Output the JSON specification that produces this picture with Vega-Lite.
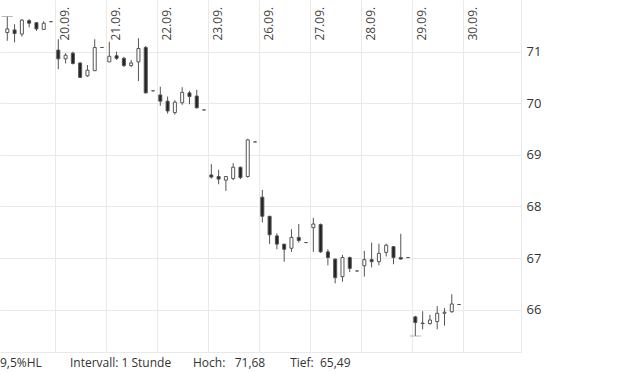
{
  "$schema": "https://vega.github.io/schema/vega-lite/v6.json",
  "width": 521,
  "height": 352,
  "padding": 0,
  "autosize": {"type": "pad"},
  "background": "#ffffff",
  "config": {"view": {"stroke": null}, "font": "Open Sans"},
  "title": {
    "text": "9,5%HL\u00a0\u00a0\u00a0\u00a0\u00a0\u00a0\u00a0\u00a0\u00a0Intervall: 1 Stunde\u00a0\u00a0\u00a0\u00a0\u00a0\u00a0\u00a0Hoch:\u00a0\u00a0\u00a071,68\u00a0\u00a0\u00a0\u00a0\u00a0\u00a0\u00a0\u00a0Tief:\u00a0\u00a065,49",
    "orient": "bottom",
    "anchor": "start",
    "offset": 15,
    "font": "Open Sans",
    "fontSize": 12,
    "fontWeight": "normal",
    "color": "#333333",
    "baseline": "alphabetic"
  },
  "datasets": {
    "candles": [
      {"i": 0, "o": 71.37, "h": 71.68, "l": 71.21, "c": 71.44},
      {"i": 1, "o": 71.42, "h": 71.53, "l": 71.18, "c": 71.35},
      {"i": 2, "o": 71.34, "h": 71.63, "l": 71.29, "c": 71.61},
      {"i": 3, "o": 71.60, "h": 71.63, "l": 71.47, "c": 71.55},
      {"i": 4, "o": 71.56, "h": 71.57, "l": 71.40, "c": 71.44},
      {"i": 5, "o": 71.43, "h": 71.59, "l": 71.42, "c": 71.55},
      {"i": 6, "o": 71.58, "h": 71.58, "l": 71.58, "c": 71.58},
      {"i": 7, "o": 71.03, "h": 71.24, "l": 70.66, "c": 70.86},
      {"i": 8, "o": 70.86, "h": 70.97, "l": 70.77, "c": 70.93},
      {"i": 9, "o": 70.97, "h": 71.00, "l": 70.75, "c": 70.77},
      {"i": 10, "o": 70.78, "h": 70.79, "l": 70.49, "c": 70.50},
      {"i": 11, "o": 70.53, "h": 70.74, "l": 70.51, "c": 70.64},
      {"i": 12, "o": 70.63, "h": 71.24, "l": 70.63, "c": 71.08},
      {"i": 13, "o": 71.08, "h": 71.08, "l": 71.08, "c": 71.08},
      {"i": 14, "o": 70.80, "h": 71.19, "l": 70.80, "c": 70.91},
      {"i": 15, "o": 70.92, "h": 71.00, "l": 70.84, "c": 70.87},
      {"i": 16, "o": 70.87, "h": 70.90, "l": 70.70, "c": 70.73},
      {"i": 17, "o": 70.73, "h": 70.84, "l": 70.70, "c": 70.78},
      {"i": 18, "o": 70.80, "h": 71.26, "l": 70.43, "c": 71.06},
      {"i": 19, "o": 71.08, "h": 71.11, "l": 70.19, "c": 70.20},
      {"i": 20, "o": 70.24, "h": 70.24, "l": 70.24, "c": 70.24},
      {"i": 21, "o": 70.16, "h": 70.32, "l": 69.95, "c": 70.04},
      {"i": 22, "o": 70.04, "h": 70.13, "l": 69.80, "c": 69.85},
      {"i": 23, "o": 69.82, "h": 70.06, "l": 69.78, "c": 70.02},
      {"i": 24, "o": 70.01, "h": 70.31, "l": 69.97, "c": 70.21},
      {"i": 25, "o": 70.20, "h": 70.24, "l": 69.98, "c": 70.13},
      {"i": 26, "o": 70.14, "h": 70.26, "l": 69.90, "c": 69.91},
      {"i": 27, "o": 69.87, "h": 69.87, "l": 69.87, "c": 69.87},
      {"i": 28, "o": 68.61, "h": 68.82, "l": 68.54, "c": 68.57},
      {"i": 29, "o": 68.58, "h": 68.71, "l": 68.43, "c": 68.53},
      {"i": 30, "o": 68.51, "h": 68.59, "l": 68.30, "c": 68.58},
      {"i": 31, "o": 68.54, "h": 68.84, "l": 68.51, "c": 68.76},
      {"i": 32, "o": 68.76, "h": 68.77, "l": 68.53, "c": 68.56},
      {"i": 33, "o": 68.58, "h": 69.31, "l": 68.56, "c": 69.29},
      {"i": 34, "o": 69.25, "h": 69.25, "l": 69.25, "c": 69.25},
      {"i": 35, "o": 68.18, "h": 68.32, "l": 67.69, "c": 67.81},
      {"i": 36, "o": 67.81, "h": 67.81, "l": 67.27, "c": 67.45},
      {"i": 37, "o": 67.43, "h": 67.48, "l": 67.17, "c": 67.27},
      {"i": 38, "o": 67.27, "h": 67.27, "l": 66.93, "c": 67.17},
      {"i": 39, "o": 67.19, "h": 67.56, "l": 67.12, "c": 67.40},
      {"i": 40, "o": 67.40, "h": 67.66, "l": 67.30, "c": 67.34},
      {"i": 41, "o": 67.30, "h": 67.30, "l": 67.30, "c": 67.30},
      {"i": 42, "o": 67.59, "h": 67.78, "l": 67.12, "c": 67.66},
      {"i": 43, "o": 67.65, "h": 67.67, "l": 67.10, "c": 67.12},
      {"i": 44, "o": 67.12, "h": 67.17, "l": 66.86, "c": 67.01},
      {"i": 45, "o": 66.98, "h": 66.99, "l": 66.51, "c": 66.62},
      {"i": 46, "o": 66.64, "h": 67.06, "l": 66.54, "c": 67.01},
      {"i": 47, "o": 67.01, "h": 67.03, "l": 66.73, "c": 66.80},
      {"i": 48, "o": 66.75, "h": 66.75, "l": 66.75, "c": 66.75},
      {"i": 49, "o": 66.85, "h": 67.14, "l": 66.64, "c": 66.97},
      {"i": 50, "o": 66.97, "h": 67.30, "l": 66.82, "c": 66.93},
      {"i": 51, "o": 66.93, "h": 67.28, "l": 66.86, "c": 67.09},
      {"i": 52, "o": 67.11, "h": 67.28, "l": 67.03, "c": 67.25},
      {"i": 53, "o": 67.22, "h": 67.23, "l": 66.88, "c": 67.01},
      {"i": 54, "o": 67.01, "h": 67.47, "l": 66.98, "c": 66.98},
      {"i": 55, "o": 67.01, "h": 67.01, "l": 67.01, "c": 67.01},
      {"i": 56, "o": 65.86, "h": 65.88, "l": 65.49, "c": 65.75},
      {"i": 57, "o": 65.74, "h": 65.97, "l": 65.62, "c": 65.73},
      {"i": 58, "o": 65.73, "h": 65.90, "l": 65.71, "c": 65.80},
      {"i": 59, "o": 65.77, "h": 66.07, "l": 65.62, "c": 65.93},
      {"i": 60, "o": 65.93, "h": 66.03, "l": 65.69, "c": 65.95},
      {"i": 61, "o": 65.96, "h": 66.30, "l": 65.94, "c": 66.11},
      {"i": 62, "o": 66.10, "h": 66.10, "l": 66.10, "c": 66.10}
    ],
    "extremes": [
      {"i": 0, "v": 71.68, "kind": "Hoch"},
      {"i": 56, "v": 65.49, "kind": "Tief"}
    ]
  },
  "resolve": {"axis": {"x": "independent"}},
  "layer": [
    {
      "data": {"name": "candles"},
      "mark": {"type": "rule", "color": "#555555", "strokeWidth": 1},
      "encoding": {
        "x": {
          "field": "i",
          "type": "quantitative",
          "scale": {"domain": [-1, 70.5], "nice": false, "zero": false, "padding": 0},
          "axis": {
            "orient": "top",
            "values": [6.6, 13.6, 20.6, 27.6, 34.6, 41.6, 48.6, 55.6, 62.6],
            "labelExpr": "['20.09.','21.09.','22.09.','23.09.','26.09.','27.09.','28.09.','29.09.','30.09.'][round((datum.value+0.4)/7)-1]",
            "labelAngle": 270,
            "labelAlign": "left",
            "labelBaseline": "middle",
            "labelPadding": -40,
            "labelOffset": 9.5,
            "ticks": false,
            "tickSize": 0,
            "domain": false,
            "grid": true,
            "gridColor": "#e9e9e9",
            "gridWidth": 1,
            "labelFont": "Open Sans",
            "labelFontSize": 12,
            "labelColor": "#444444",
            "labelFlush": false,
            "labelOverlap": false,
            "labelBound": false,
            "title": null
          }
        },
        "y": {
          "field": "l",
          "type": "quantitative",
          "scale": {"domain": [65.18, 72.0], "nice": false, "zero": false, "padding": 0},
          "axis": {
            "orient": "right",
            "values": [66, 67, 68, 69, 70, 71],
            "grid": true,
            "gridColor": "#e9e9e9",
            "domain": true,
            "domainColor": "#e9e9e9",
            "ticks": false,
            "labelPadding": 5,
            "labelFont": "Open Sans",
            "labelFontSize": 13,
            "labelColor": "#333333",
            "labelFlush": false,
            "title": null
          }
        },
        "y2": {"field": "h"}
      }
    },
    {
      "data": {"name": "candles"},
      "mark": {"type": "bar", "size": 3, "stroke": "#555555", "strokeWidth": 1},
      "encoding": {
        "x": {
          "field": "i",
          "type": "quantitative",
          "axis": {
            "orient": "bottom",
            "labels": false,
            "ticks": false,
            "grid": false,
            "domain": true,
            "domainColor": "#e9e9e9",
            "title": null
          }
        },
        "y": {"field": "o", "type": "quantitative"},
        "y2": {"field": "c"},
        "fill": {
          "condition": {"test": "datum.c > datum.o", "value": "#ffffff"},
          "value": "#222222"
        }
      }
    },
    {
      "data": {"name": "extremes"},
      "mark": {"type": "tick", "orient": "horizontal", "size": 11, "thickness": 1, "color": "#999999"},
      "encoding": {
        "x": {"field": "i", "type": "quantitative", "axis": null},
        "y": {"field": "v", "type": "quantitative"}
      }
    }
  ]
}
